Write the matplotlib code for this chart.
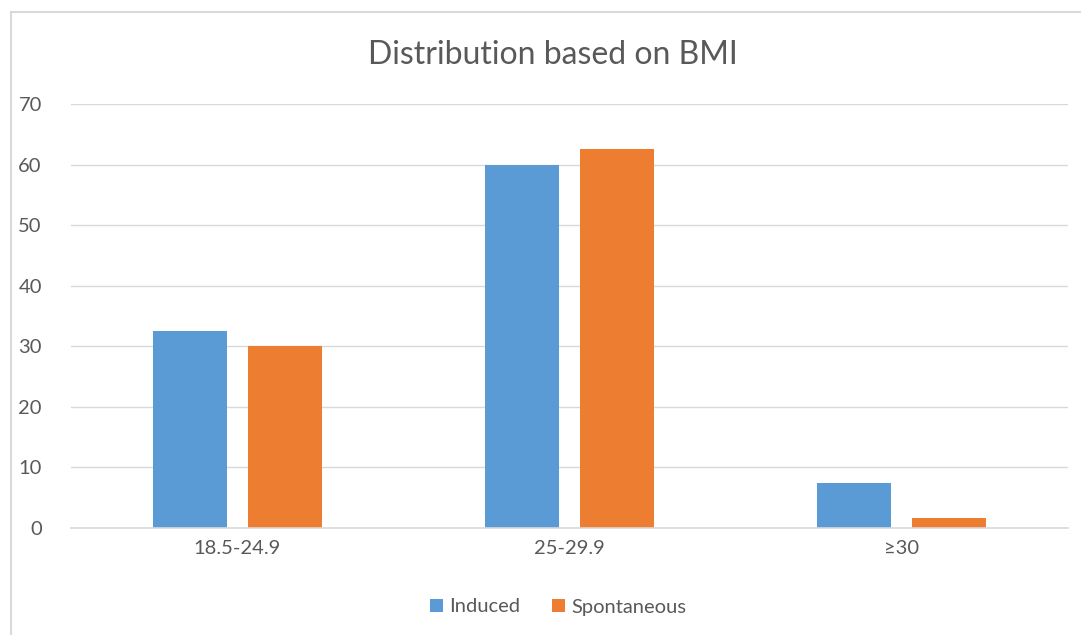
import matplotlib.pyplot as plt
import numpy as np
from matplotlib.patches import Rectangle

# data
categories = ["18.5-24.9", "25-29.9", "≥30"]
induced = [32.5, 60, 7.5]
spontaneous = [30, 62.5, 1.7]

plt.rcParams['font.family'] = ['Lato', 'DejaVu Sans']

fig = plt.figure(figsize=(10.81, 6.35), dpi=100)
W, H = 1081, 635

# outer chart border (light gray), only top and left edges visible
fig.patches.append(Rectangle((11 / W, -0.1), 1.2, 1.1 - 12 / H, transform=fig.transFigure,
                             fill=False, edgecolor="#d9d9d9", linewidth=1.5))

ax = fig.add_axes([71 / W, 1 - 528 / H, 997 / W, 424 / H])

x = np.arange(len(categories))
bw = 0.222
off = 0.143
ax.bar(x - off, induced, bw, color="#5B9BD5", label="Induced", zorder=3)
ax.bar(x + off, spontaneous, bw, color="#ED7D31", label="Spontaneous", zorder=3)

ax.set_xlim(-0.5, 2.5)
ax.set_ylim(0, 70)
ax.set_yticks(range(0, 71, 10))
ax.set_xticks(x)
ax.set_xticklabels(categories)
ax.grid(axis="y", color="#d9d9d9", linewidth=1, zorder=0)
for s in ["top", "right", "left"]:
    ax.spines[s].set_visible(False)
ax.spines["bottom"].set_color("#d9d9d9")
ax.spines["bottom"].set_linewidth(1.2)
ax.spines["bottom"].set_zorder(4)
ax.tick_params(axis="both", length=0, colors="#595959", labelsize=14.5)
ax.tick_params(axis="y", pad=21)
ax.tick_params(axis="x", pad=9)

fig.text(553 / W, 1 - 55 / H, "Distribution based on BMI", ha="center", va="center",
         fontsize=23, color="#595959")

ax.legend(loc="center", bbox_to_anchor=(558 / W, 1 - 607 / H), bbox_transform=fig.transFigure,
          ncol=2, frameon=False, fontsize=14.5, handlelength=0.65, handleheight=0.65,
          handletextpad=0.3, columnspacing=1.6, labelcolor="#595959")

fig.savefig("out.png", dpi=100)
